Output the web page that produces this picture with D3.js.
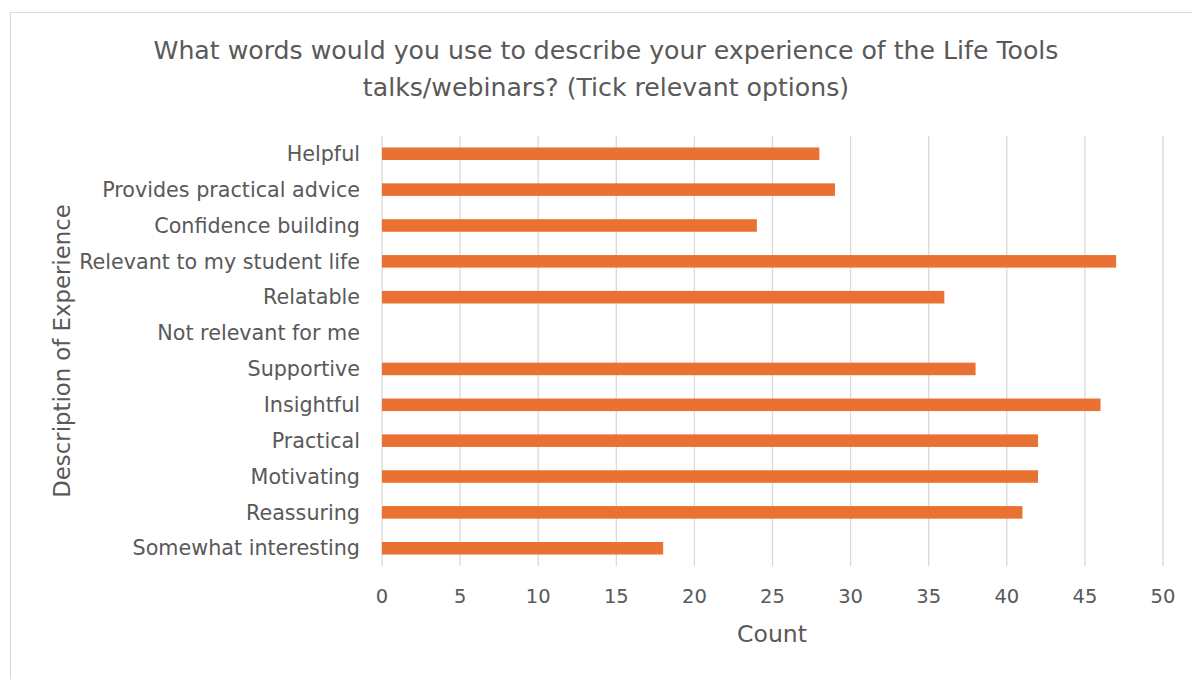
<!DOCTYPE html>
<html><head><meta charset="utf-8">
<script src="https://cdn.jsdelivr.net/npm/d3@7"></script>
<style>body{margin:0;background:#fff}svg{display:block}text{font-family:"DejaVu Sans",sans-serif;fill:#595959}</style>
</head><body><svg id="c" width="1192" height="679"></svg>
<script>
const categories = ["Helpful","Provides practical advice","Confidence building","Relevant to my student life","Relatable","Not relevant for me","Supportive","Insightful","Practical","Motivating","Reassuring","Somewhat interesting"];
const counts = [28,29,24,47,36,0,38,46,42,42,41,18];
const xTicks = [0,5,10,15,20,25,30,35,40,45,50];
const titleLines = ["What words would you use to describe your experience of the Life Tools","talks/webinars? (Tick relevant options)"];

const svg = d3.select("#c");
svg.append("rect").attr("x",10.5).attr("y",12.5).attr("width",1200).attr("height",700).attr("fill","none").attr("stroke","#d9d9d9");

const L=382, R=1163, T=136, B=566;
const x = d3.scaleLinear().domain([0,50]).range([L,R]);
const y = d3.scaleBand().domain(categories).range([T,B]).paddingInner(0.65).paddingOuter(0.32);

svg.append("g").selectAll("line").data(xTicks).join("line")
  .attr("x1",d=>x(d)).attr("x2",d=>x(d)).attr("y1",T).attr("y2",B)
  .attr("stroke","#d9d9d9").attr("stroke-width",1.3);

svg.append("g").selectAll("rect").data(categories).join("rect")
  .attr("x",x(0)).attr("y",d=>y(d)).attr("height",y.bandwidth())
  .attr("width",(d,i)=>x(counts[i])-x(0)).attr("fill","#E97132");

svg.append("g").selectAll("text").data(categories).join("text")
  .attr("x",360).attr("y",d=>y(d)+y.bandwidth()/2).attr("dy","0.35em")
  .attr("text-anchor","end").attr("font-size",20.7).text(d=>d);

svg.append("g").selectAll("text").data(xTicks).join("text")
  .attr("x",d=>x(d)).attr("y",596).attr("dy","0.35em")
  .attr("text-anchor","middle").attr("font-size",19.5).text(d=>d);

svg.append("text").attr("x",772).attr("y",634).attr("dy","0.35em").attr("text-anchor","middle").attr("font-size",23.5).text("Count");
svg.append("text").attr("transform","translate(62,351) rotate(-90)").attr("dy","0.35em").attr("text-anchor","middle").attr("font-size",22.8).text("Description of Experience");

svg.append("g").selectAll("text").data(titleLines).join("text")
  .attr("x",606).attr("y",(d,i)=>50+i*37).attr("dy","0.35em").attr("text-anchor","middle").attr("font-size",25.2).text(d=>d);
</script></body></html>
